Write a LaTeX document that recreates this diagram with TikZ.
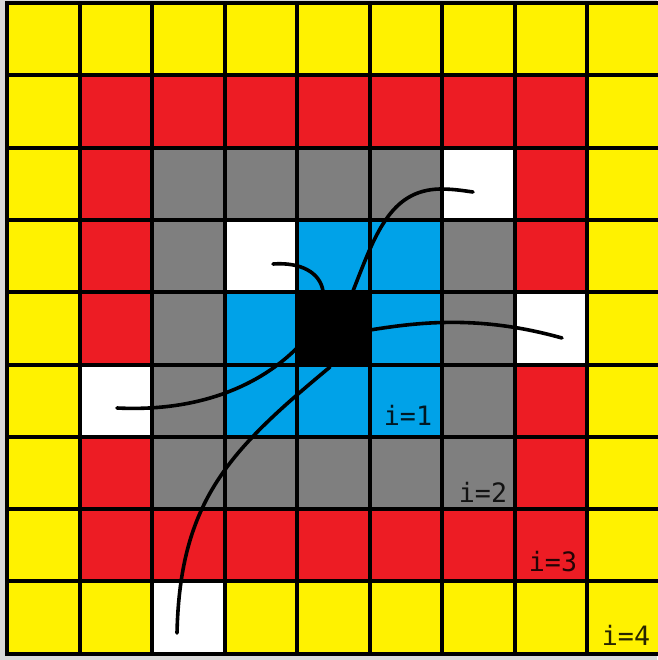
\documentclass[tikz,border=0pt]{standalone}
\usepackage{fontspec}
\newfontfamily\monof{DejaVu Sans Mono}
\definecolor{cY}{HTML}{FFF200}
\definecolor{cR}{HTML}{ED1C24}
\definecolor{cG}{HTML}{7F7F7F}
\definecolor{cB}{HTML}{00A2E8}
\definecolor{cW}{HTML}{FFFFFF}
\definecolor{cK}{HTML}{000000}
\begin{document}
\begin{tikzpicture}[x=0.75pt,y=-0.75pt,
  gridline/.style={line width=3pt,black,line cap=rect},
  wire/.style={line width=2.7pt,black,line cap=round},
  lab/.style={font=\monof\fontsize{20}{20}\selectfont,text=black,text opacity=0.85,inner sep=0pt}]
\useasboundingbox (0,0) rectangle (657,660);
\fill[gray!30] (0,0) rectangle (657,660);
\foreach \row [count=\j from 0] in {
  {cY,cY,cY,cY,cY,cY,cY,cY,cY},
  {cY,cR,cR,cR,cR,cR,cR,cR,cY},
  {cY,cR,cG,cG,cG,cG,cW,cR,cY},
  {cY,cR,cG,cW,cB,cB,cG,cR,cY},
  {cY,cR,cG,cB,cK,cB,cG,cW,cY},
  {cY,cW,cG,cB,cB,cB,cG,cR,cY},
  {cY,cR,cG,cG,cG,cG,cG,cR,cY},
  {cY,cR,cR,cR,cR,cR,cR,cR,cY},
  {cY,cY,cW,cY,cY,cY,cY,cY,cY}}
{
  \foreach \c [count=\i from 0] in \row {
    \fill[\c] ({7+72.5*\i},{3+72.3*\j}) rectangle ++(72.5,72.3);
  }
}
\foreach \i in {0,...,9} {
  \draw[gridline] ({7+72.5*\i},3) -- ({7+72.5*\i},653.7);
  \draw[gridline] (7,{3+72.3*\i}) -- (659.5,{3+72.3*\i});
}
% labels
\node[lab] (l1) at (408,415) {i=1};
\node[lab] (l2) at (483,492) {i=2};
\node[lab] (l3) at (553,562) {i=3};
\node[lab] (l4) at (626,635) {i=4};
% curve end points
\coordinate (a0) at (273,264);
\coordinate (a1) at (323,291);
\coordinate (b0) at (353,291);
\coordinate (bm) at (440,189);
\coordinate (b1) at (473,192);
\coordinate (c0) at (370,330);
\coordinate (c1) at (562,338);
\coordinate (d0) at (297,348);
\coordinate (d1) at (117,408);
\coordinate (e0) at (330,367);
\coordinate (e1) at (177,633);
\draw[wire] (a0) .. controls (300,262) and (320,272) .. (a1);
\draw[wire] (b0) .. controls (375,235) and (390,190) .. (bm) .. controls (455,189) and (465,191) .. (b1);
\draw[wire] (c0) .. controls (420,322) and (480,315) .. (c1);
\draw[wire] (d0) .. controls (260,385) and (200,412) .. (d1);
\draw[wire] (e0) .. controls (230,450) and (180,500) .. (e1);
\end{tikzpicture}
\end{document}
